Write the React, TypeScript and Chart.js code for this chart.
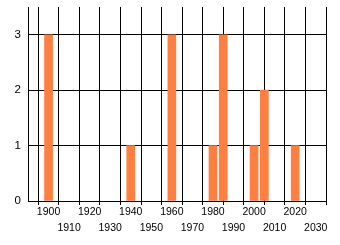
import React, { useEffect, useRef } from "react";
import { Chart, registerables } from "chart.js";

Chart.register(...registerables);

const years = [1900, 1940, 1960, 1980, 1985, 2000, 2005, 2020];
const counts = [3, 1, 3, 1, 3, 1, 2, 1];
const xTickValues = [1900, 1910, 1920, 1930, 1940, 1950, 1960, 1970, 1980, 1990, 2000, 2010, 2020, 2030];
const yTickValues = [0, 1, 2, 3];

export default function App() {
  const ref = useRef<HTMLCanvasElement | null>(null);
  useEffect(() => {
    const canvas = ref.current;
    if (!canvas) return;
    const font = { family: "'Liberation Sans', Arial, sans-serif", size: 10.5 };
    const chart = new Chart(canvas, {
      type: "bar",
      data: {
        datasets: [
          {
            data: years.map((y, i) => ({ x: y, y: counts[i] })),
            backgroundColor: "#FF7F40",
            borderWidth: 0,
            barThickness: 8,
          },
        ],
      },
      options: {
        responsive: false,
        animation: false,
        layout: { padding: { top: 7, right: 14, left: 0, bottom: 0 } },
        plugins: { legend: { display: false }, tooltip: { enabled: false } },
        scales: {
          x: {
            type: "linear",
            min: 1890,
            max: 2035,
            offset: false,
            afterBuildTicks: (scale: any) => {
              scale.ticks = [{ value: 1890 }, ...xTickValues.map((v) => ({ value: v }))];
            },
            afterFit: (scale: any) => {
              scale.height = 44;
            },
            grid: { color: "#000", lineWidth: 1, tickLength: 4, drawTicks: true },
            border: { color: "#000", width: 1 },
            ticks: {
              autoSkip: false,
              maxRotation: 0,
              minRotation: 0,
              padding: -1,
              color: "#000",
              font: { ...font, lineHeight: 1.55 },
              callback: (v: any) => {
                const n = Number(v);
                if (!xTickValues.includes(n)) return "";
                const idx = xTickValues.indexOf(n);
                return idx % 2 === 0 ? [String(n), ""] : ["", String(n)];
              },
            },
          },
          y: {
            min: 0,
            max: 3.5,
            afterBuildTicks: (scale: any) => {
              scale.ticks = yTickValues.map((v) => ({ value: v }));
            },
            afterFit: (scale: any) => {
              scale.width = 28;
              scale.paddingTop = 0;
            },
            grid: { color: "#000", lineWidth: 1, drawTicks: false },
            border: { color: "#000", width: 1 },
            ticks: {
              padding: 7,
              color: "#000",
              font: { ...font, size: 11.5 },
            },
          },
        },
      },
    });
    return () => chart.destroy();
  }, []);
  return (
    <div style={{ position: "fixed", left: 0, top: 0, width: 340, height: 245, background: "#fff" }}>
      <canvas ref={ref} width={340} height={245} />
    </div>
  );
}
